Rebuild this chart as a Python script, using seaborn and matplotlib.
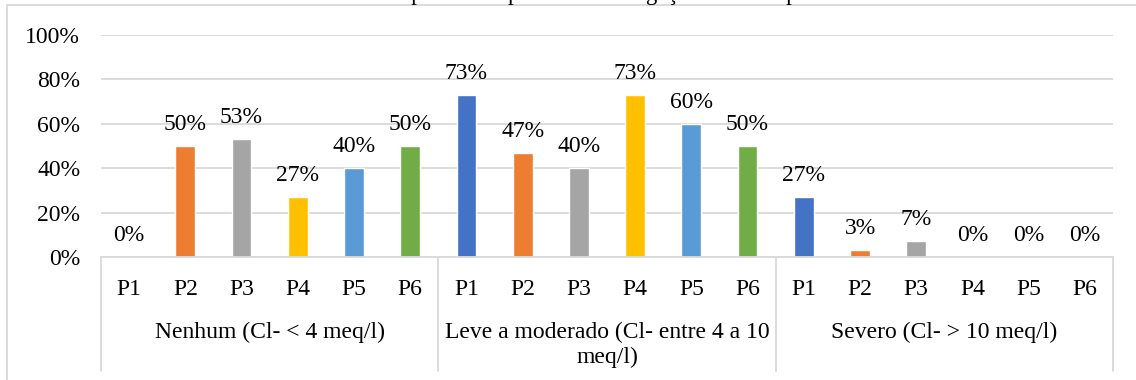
import matplotlib
matplotlib.use("Agg")
import matplotlib.pyplot as plt
import matplotlib.transforms as mtransforms
import numpy as np
import pandas as pd
import seaborn as sns


TITLE = "Teor de Cloreto por classe para uso na irrigação em cada ponto"
GROUPS = [
    "Nenhum (Cl- < 4 meq/l)",
    "Leve a moderado (Cl- entre 4 a 10\nmeq/l)",
    "Severo (Cl- > 10 meq/l)",
]
POINTS = ["P1", "P2", "P3", "P4", "P5", "P6"]
NENHUM = [0, 50, 53, 27, 40, 50]
LEVE = [73, 47, 40, 73, 60, 50]
SEVERO = [27, 3, 7, 0, 0, 0]
COLORS = ["#4472C4", "#ED7D31", "#A5A5A5", "#FFC000", "#5B9BD5", "#70AD47"]

GRID = "#D9D9D9"
FONT = ["Liberation Serif", "DejaVu Serif"]
FS = 17


def build_frame() -> pd.DataFrame:
    rows = []
    for g_i, vals in enumerate([NENHUM, LEVE, SEVERO]):
        for p, v in zip(POINTS, vals):
            rows.append({"slot": f"{g_i}-{p}", "group": g_i, "ponto": p, "pct": v / 100})
    return pd.DataFrame(rows)


def main() -> None:
    sns.set_theme(style="white")
    plt.rcParams["font.family"] = FONT
    plt.rcParams["text.color"] = "black"
    plt.rcParams["xtick.color"] = "black"
    plt.rcParams["ytick.color"] = "black"
    df = build_frame()

    fig = plt.figure(figsize=(11.36, 3.8), dpi=100)
    ax = fig.add_axes([101 / 1136, 1 - 257 / 380, 1012 / 1136, 222 / 380])

    sns.barplot(data=df, x="slot", y="pct", hue="ponto", palette=COLORS, dodge=False,
                width=0.35, legend=False, ax=ax, saturation=1)

    ax.set_xlim(-0.5, len(df) - 0.5)
    ax.set_ylim(0, 1)
    ax.set_yticks(np.arange(0, 1.01, 0.2))
    ax.set_yticklabels([f"{int(round(t * 100))}%" for t in ax.get_yticks()], fontsize=FS)
    ax.set_xticks(range(len(df)))
    ax.set_xticklabels(df["ponto"], fontsize=FS)
    ax.tick_params(axis="both", length=0)
    ax.tick_params(axis="y", pad=15)
    ax.tick_params(axis="x", pad=16)
    ax.set_xlabel("")
    ax.set_ylabel("")
    ax.grid(True, axis="y", color=GRID, linewidth=1.3)
    ax.set_axisbelow(True)
    for side in ["top", "right", "left"]:
        ax.spines[side].set_visible(False)
    ax.spines["bottom"].set_color(GRID)
    ax.spines["bottom"].set_linewidth(1.3)

    for container in ax.containers:
        for bar in container:
            h = bar.get_height()
            if np.isnan(h):
                continue
            ax.annotate(f"{int(round(h * 100))}%", (bar.get_x() + bar.get_width() / 2, h),
                        xytext=(0, 8), textcoords="offset points", ha="center", va="bottom",
                        fontsize=FS, color="black")

    # multi-level category axis
    trans = mtransforms.blended_transform_factory(ax.transData, ax.transAxes)
    y_low = (257 - 371) / 222
    for x in [-0.5, 5.5, 11.5, 17.5]:
        ax.plot([x, x], [0, y_low], transform=trans, color=GRID, linewidth=1.3, clip_on=False)
    for g_i, name in enumerate(GROUPS):
        ax.text(g_i * 6 + 2.5, (257 - 322) / 222, name, transform=trans, ha="center", va="top",
                fontsize=FS, linespacing=1.25)

    # chart area border (top and left only inside the crop)
    fig.add_artist(plt.Line2D([7 / 1136, 1], [1 - 5 / 380, 1 - 5 / 380], color=GRID, linewidth=1.3))
    fig.add_artist(plt.Line2D([7 / 1136, 7 / 1136], [0, 1 - 5 / 380], color=GRID, linewidth=1.3))

    # the chart title sits mostly above the cropped picture, as in the source
    fig.text(262 / 1136, 1.0, TITLE, ha="left", va="baseline", fontsize=16.5)

    fig.savefig("out.png", dpi=100, facecolor="white")
    plt.close(fig)


if __name__ == "__main__":
    main()
